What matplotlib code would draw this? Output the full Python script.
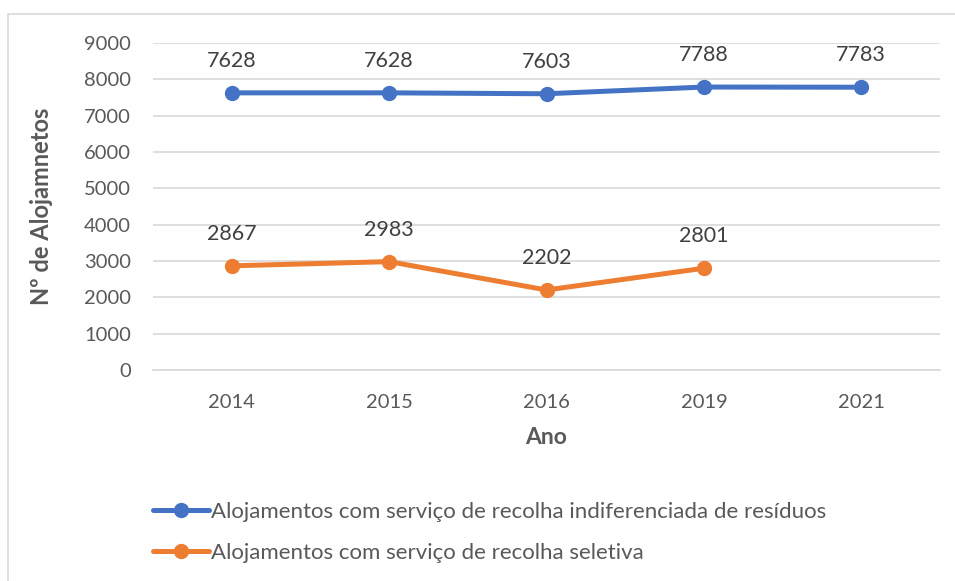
import matplotlib.pyplot as plt
from matplotlib.patches import Rectangle

# data
anos = ['2014', '2015', '2016', '2019', '2021']
indiferenciada = [7628, 7628, 7603, 7788, 7783]
seletiva = [2867, 2983, 2202, 2801]

lbl_ind = 'Alojamentos com serviço de recolha indiferenciada de resíduos'
lbl_sel = 'Alojamentos com serviço de recolha seletiva'

blue = '#4472C4'
orange = '#ED7D31'
txt = '#595959'

plt.rcParams['font.family'] = ['Lato', 'DejaVu Sans']

fig = plt.figure(figsize=(9.55, 5.81), dpi=100)
ax = fig.add_axes([153/955, 1-370/581, (940-153)/955, (370-43)/581])

# outer chart border
fig.patches.append(Rectangle((8/955, -0.01), 1.0, 1-14/581+0.01, transform=fig.transFigure,
                             fill=False, edgecolor='#D9D9D9', linewidth=1.2))

x = list(range(len(anos)))
ax.plot(x, indiferenciada, color=blue, lw=3.6, marker='o', ms=10, label=lbl_ind,
        solid_capstyle='round', zorder=3)
ax.plot(x[:len(seletiva)], seletiva, color=orange, lw=3.6, marker='o', ms=10, label=lbl_sel,
        solid_capstyle='round', zorder=3)

for xi, v in zip(x, indiferenciada):
    ax.annotate(str(v), (xi, v), xytext=(0, 23), textcoords='offset points',
                ha='center', va='center', fontsize=15.5, color='#404040')
for xi, v in zip(x, seletiva):
    ax.annotate(str(v), (xi, v), xytext=(0, 23), textcoords='offset points',
                ha='center', va='center', fontsize=15.5, color='#404040')

ax.set_xlim(-0.5, len(anos) - 0.5)
ax.set_ylim(0, 9000)
ax.set_yticks(range(0, 9001, 1000))
ax.set_xticks(x)
ax.set_xticklabels(anos)
ax.tick_params(axis='both', length=0, labelsize=14.5, labelcolor=txt)
ax.tick_params(axis='x', pad=17)
ax.tick_params(axis='y', pad=16)
ax.grid(axis='y', color='#D9D9D9', lw=1.2)
ax.set_axisbelow(True)
for s in ['top', 'right', 'left']:
    ax.spines[s].set_visible(False)
ax.spines['bottom'].set_color('#D9D9D9')
ax.spines['bottom'].set_linewidth(1.2)

ax.set_xlabel('Ano', fontsize=16.5, fontweight='bold', color=txt, labelpad=12)
ax.set_ylabel('Nº de Alojamnetos', fontsize=17, fontweight='bold', color=txt, labelpad=22)

fig.legend(loc='upper left', bbox_to_anchor=(153/955, 1-502/581), frameon=False,
           fontsize=16, handlelength=2.5, handletextpad=0.1, labelspacing=0.93,
           borderpad=0, borderaxespad=0, labelcolor=txt)

fig.savefig('out.png', dpi=100)
